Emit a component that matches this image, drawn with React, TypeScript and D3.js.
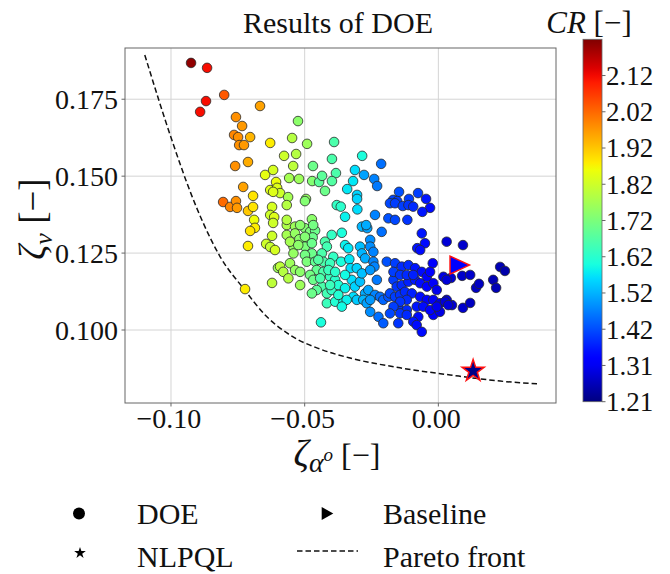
import React from 'react';
import * as d3 from 'd3';

// ---------- data ----------
const xDomain = [-0.1172, 0.044];
const yDomain = [0.07628, 0.19165];
const crDomain = [1.2131, 2.2251];

const xTicks = [-0.1, -0.05, 0.0];
const xTickLabels = ['−0.10', '−0.05', '0.00'];
const yTicks = [0.1, 0.125, 0.15, 0.175];
const yTickLabels = ['0.100', '0.125', '0.150', '0.175'];
const crTicks = [1.2131, 1.3143, 1.4155, 1.5167, 1.6179, 1.7191, 1.8203, 1.9215, 2.0227, 2.1239];
const crTickLabels = ['1.21', '1.31', '1.42', '1.52', '1.62', '1.72', '1.82', '1.92', '2.02', '2.12'];

// Pareto front (zeta_alpha, zeta_v)
const paretoX = [-0.1098, -0.0997, -0.0922, -0.0879, -0.0816, -0.0727, -0.0648, -0.0548, -0.0442, -0.033, -0.0143, 0.0044, 0.0231, 0.0369];
const paretoY = [0.1894, 0.1618, 0.1436, 0.1347, 0.1238, 0.1133, 0.1049, 0.098, 0.0938, 0.0909, 0.0877, 0.0854, 0.0834, 0.0825];

// NLPQL optimum and baseline: [zeta_alpha, zeta_v, CR]
const nlpqlPoint = [0.013, 0.0867, 1.22];
const baselinePoint = [0.008, 0.1211, 1.33];

// DOE samples: [zeta_alpha, zeta_v, CR]
const doePoints: number[][] = [
  // high-CR group (left)
  [-0.0925, 0.1868, 2.21], [-0.0865, 0.1852, 2.12], [-0.0801, 0.1764, 2.04], [-0.0869, 0.1744, 2.12],
  [-0.0891, 0.1709, 2.12], [-0.0667, 0.1728, 1.96], [-0.0757, 0.1692, 1.98], [-0.0734, 0.1663, 1.97],
  [-0.0764, 0.1634, 1.99], [-0.0749, 0.1627, 1.98], [-0.0704, 0.1627, 1.94], [-0.0745, 0.1601, 1.98],
  [-0.0727, 0.1601, 1.97], [-0.076, 0.1533, 1.98], [-0.0712, 0.1546, 1.95], [-0.0629, 0.1608, 1.88],
  [-0.073, 0.1465, 1.96], [-0.0693, 0.1436, 1.89], [-0.0805, 0.1416, 2.02], [-0.0779, 0.14, 1.99],
  [-0.0757, 0.1419, 1.98], [-0.0753, 0.1397, 1.97], [-0.0712, 0.1387, 1.92], [-0.0693, 0.14, 1.89],
  [-0.0689, 0.1358, 1.86], [-0.0686, 0.1332, 1.88], [-0.0704, 0.1322, 1.89], [-0.0712, 0.1273, 1.88],
  [-0.0723, 0.1133, 1.88],
  // green group
  [-0.0525, 0.1679, 1.74], [-0.0547, 0.1624, 1.79], [-0.0491, 0.1605, 1.76], [-0.0577, 0.1566, 1.82],
  [-0.0532, 0.1572, 1.79], [-0.0543, 0.1533, 1.8], [-0.0469, 0.1533, 1.7], [-0.0648, 0.1504, 1.85],
  [-0.0618, 0.152, 1.83], [-0.0607, 0.1481, 1.86], [-0.0558, 0.1494, 1.77], [-0.0521, 0.1491, 1.76],
  [-0.0472, 0.1484, 1.73], [-0.0446, 0.1481, 1.68], [-0.0629, 0.1455, 1.84], [-0.0603, 0.1462, 1.84],
  [-0.0592, 0.1445, 1.82], [-0.0618, 0.1449, 1.84], [-0.0562, 0.1432, 1.77], [-0.0495, 0.1426, 1.75],
  [-0.0622, 0.14, 1.83], [-0.0629, 0.1374, 1.82], [-0.0614, 0.1367, 1.84], [-0.0618, 0.1348, 1.82],
  [-0.0622, 0.1306, 1.82], [-0.0644, 0.128, 1.82], [-0.0629, 0.127, 1.81], [-0.0611, 0.126, 1.83],
  [-0.06, 0.1202, 1.76], [-0.0622, 0.1153, 1.8],
  // teal / cyan upper
  [-0.039, 0.1611, 1.66], [-0.0398, 0.1556, 1.66], [-0.0435, 0.1501, 1.68], [-0.0383, 0.151, 1.66],
  [-0.0398, 0.1484, 1.67], [-0.0424, 0.1452, 1.7],
  [-0.0285, 0.1566, 1.6], [-0.0214, 0.154, 1.45], [-0.0312, 0.152, 1.56], [-0.0278, 0.1504, 1.5],
  [-0.024, 0.1491, 1.47], [-0.0229, 0.1468, 1.46], [-0.0319, 0.1484, 1.57], [-0.0341, 0.1458, 1.57],
  [-0.0304, 0.1439, 1.55], [-0.0304, 0.1426, 1.55],
  [-0.0147, 0.1449, 1.42], [-0.0169, 0.1423, 1.41], [-0.0154, 0.1419, 1.4], [-0.011, 0.1426, 1.4],
  [-0.0076, 0.1445, 1.4], [-0.0046, 0.1426, 1.36], [-0.0031, 0.1397, 1.35],
  // right-hand dark blue group
  [0.0051, 0.1081, 1.29], [0.0092, 0.1072, 1.28], [0.0119, 0.1088, 1.27], [0.0047, 0.1169, 1.29],
  [0.0089, 0.1176, 1.28], [0.0119, 0.1179, 1.28], [0.0141, 0.1137, 1.27], [0.0152, 0.115, 1.27],
  [0.0205, 0.1163, 1.26], [0.0216, 0.1137, 1.26], [0.0231, 0.1205, 1.26], [0.0249, 0.1192, 1.25],
  [0.0092, 0.1276, 1.28],
  // dense central region
  [-0.0567, 0.1406, 1.79], [-0.0499, 0.1419, 1.73], [-0.038, 0.1406, 1.63], [-0.0365, 0.1401, 1.62],
  [-0.0303, 0.1392, 1.56], [-0.0349, 0.1368, 1.58], [-0.0237, 0.1374, 1.47], [-0.0181, 0.1412, 1.41],
  [-0.0162, 0.1412, 1.4], [-0.0133, 0.1403, 1.4], [-0.0112, 0.1406, 1.39], [-0.0094, 0.1401, 1.38],
  [-0.006, 0.1384, 1.36], [-0.0187, 0.1363, 1.42], [-0.0162, 0.1358, 1.41], [-0.0116, 0.1358, 1.39],
  [-0.0473, 0.136, 1.74], [-0.0567, 0.1341, 1.78], [-0.0536, 0.1336, 1.76], [-0.0567, 0.1309, 1.77],
  [-0.0536, 0.1314, 1.75], [-0.0499, 0.1331, 1.73], [-0.048, 0.1319, 1.72], [-0.0461, 0.1323, 1.7],
  [-0.052, 0.1295, 1.74], [-0.0492, 0.1298, 1.72], [-0.047, 0.1301, 1.7], [-0.0399, 0.1309, 1.63],
  [-0.0361, 0.1316, 1.6], [-0.0286, 0.1336, 1.52], [-0.0266, 0.1331, 1.5], [-0.027, 0.1341, 1.51],
  [-0.0212, 0.1319, 1.45], [-0.0255, 0.1293, 1.48], [-0.0062, 0.1314, 1.36], [-0.005, 0.1282, 1.35],
  [-0.0079, 0.1266, 1.36], [-0.0068, 0.126, 1.35], [0.0031, 0.1287, 1.29], [-0.0424, 0.1287, 1.66],
  [-0.0417, 0.1271, 1.65], [-0.0349, 0.1276, 1.58], [-0.0337, 0.1266, 1.57], [-0.0293, 0.1271, 1.53],
  [-0.0255, 0.1271, 1.48], [-0.0243, 0.1254, 1.47], [-0.0542, 0.1271, 1.75], [-0.0542, 0.1249, 1.75],
  [-0.0499, 0.1271, 1.72], [-0.0473, 0.1282, 1.7], [-0.0436, 0.1249, 1.66], [-0.043, 0.1222, 1.66],
  [-0.0473, 0.1249, 1.7], [-0.0499, 0.1244, 1.71], [-0.0393, 0.1238, 1.63], [-0.0405, 0.1217, 1.64],
  [-0.0364, 0.1222, 1.6], [-0.0333, 0.123, 1.57], [-0.0328, 0.1201, 1.56], [-0.0286, 0.1249, 1.52],
  [-0.0274, 0.1233, 1.51], [-0.0243, 0.1222, 1.47], [-0.0239, 0.1206, 1.47], [-0.0193, 0.1222, 1.42],
  [-0.0162, 0.1217, 1.4], [-0.0137, 0.1206, 1.38], [-0.0112, 0.1211, 1.38], [-0.0087, 0.1201, 1.36],
  [-0.0062, 0.1189, 1.35], [-0.0043, 0.1173, 1.34], [-0.0021, 0.1217, 1.33], [0.0019, 0.1173, 1.3],
  [0.0031, 0.1163, 1.29], [-0.0592, 0.1206, 1.8], [-0.058, 0.1189, 1.79], [-0.0555, 0.1217, 1.76],
  [-0.0536, 0.1195, 1.75], [-0.0517, 0.1189, 1.74], [-0.0561, 0.1168, 1.79], [-0.0517, 0.1146, 1.76],
  [-0.0492, 0.1222, 1.72], [-0.0461, 0.1222, 1.69], [-0.0455, 0.1195, 1.69], [-0.048, 0.1179, 1.71],
  [-0.0468, 0.1163, 1.7], [-0.0436, 0.1141, 1.66], [-0.0455, 0.113, 1.68], [-0.0473, 0.1119, 1.7],
  [-0.043, 0.1189, 1.66], [-0.0405, 0.1173, 1.64], [-0.0386, 0.1163, 1.62], [-0.0417, 0.1119, 1.65],
  [-0.0399, 0.113, 1.63], [-0.0374, 0.1146, 1.61], [-0.0349, 0.1136, 1.58], [-0.0417, 0.1087, 1.64],
  [-0.0386, 0.1092, 1.61], [-0.0355, 0.1092, 1.59], [-0.0324, 0.1163, 1.56], [-0.0312, 0.1141, 1.55],
  [-0.0293, 0.1157, 1.53], [-0.0274, 0.1119, 1.51], [-0.0262, 0.113, 1.5], [-0.0318, 0.1108, 1.56],
  [-0.0305, 0.1098, 1.54], [-0.0281, 0.1098, 1.52], [-0.0268, 0.1087, 1.5], [-0.0237, 0.1114, 1.47],
  [-0.0218, 0.1108, 1.45], [-0.0206, 0.1098, 1.44], [-0.0187, 0.1108, 1.42], [-0.0255, 0.1059, 1.48],
  [-0.0224, 0.1043, 1.45], [-0.0206, 0.1022, 1.43], [-0.0439, 0.1025, 1.6], [-0.0168, 0.1163, 1.4],
  [-0.0156, 0.1141, 1.39], [-0.0137, 0.1146, 1.38], [-0.0112, 0.1157, 1.37], [-0.0087, 0.1163, 1.36],
  [-0.0068, 0.1152, 1.35], [-0.0043, 0.1141, 1.34], [-0.0019, 0.1152, 1.32], [-0.0181, 0.1119, 1.41],
  [-0.0162, 0.1108, 1.4], [-0.0143, 0.1114, 1.39], [-0.0125, 0.1124, 1.38], [-0.0099, 0.1119, 1.37],
  [-0.0068, 0.1108, 1.35], [-0.0043, 0.1098, 1.34], [-0.0019, 0.1098, 1.32], [0.0006, 0.1087, 1.3],
  [0.0031, 0.1098, 1.29], [-0.015, 0.1076, 1.39], [-0.0118, 0.1065, 1.38], [-0.0081, 0.1076, 1.36],
  [-0.0056, 0.1076, 1.35], [-0.0019, 0.1049, 1.32], [0.0006, 0.1059, 1.3], [-0.0143, 0.1054, 1.39],
  [-0.0118, 0.1049, 1.38], [-0.0075, 0.1043, 1.35], [-0.0094, 0.1027, 1.36], [-0.015, 0.1022, 1.39],
  [-0.0081, 0.1016, 1.35], [-0.0062, 0.0994, 1.35], [0.0025, 0.1092, 1.29], [0.0037, 0.1081, 1.29],
  // extra samples in the dense clusters
  [-0.0517, 0.1341, 1.74], [-0.0499, 0.1303, 1.73], [-0.0468, 0.1341, 1.71], [-0.0555, 0.1287, 1.77],
  [-0.0524, 0.1276, 1.74], [-0.0567, 0.1358, 1.79], [-0.0449, 0.1228, 1.67], [-0.0411, 0.1195, 1.64],
  [-0.0386, 0.1189, 1.62], [-0.0442, 0.1168, 1.66], [-0.0405, 0.1146, 1.64], [-0.0374, 0.1114, 1.61],
  [-0.0349, 0.1179, 1.59], [-0.0343, 0.1098, 1.58], [-0.0361, 0.1076, 1.59], [-0.0305, 0.1201, 1.55],
  [-0.0286, 0.1184, 1.53], [-0.0255, 0.1195, 1.49], [-0.023, 0.1163, 1.46], [-0.0255, 0.1098, 1.49],
  [-0.0168, 0.1189, 1.4], [-0.0143, 0.1179, 1.39], [-0.0118, 0.1179, 1.38], [-0.0094, 0.1179, 1.37],
  [-0.0031, 0.1189, 1.33], [-0.0006, 0.113, 1.31], [-0.0118, 0.1098, 1.38], [-0.0031, 0.1065, 1.33],
  [-0.0006, 0.1076, 1.31], [-0.0143, 0.1092, 1.39], [-0.0168, 0.1076, 1.4], [-0.0181, 0.1054, 1.41],
];

// ---------- colormap (matplotlib jet) ----------
const jetR = d3.scaleLinear().domain([0, 0.35, 0.66, 0.89, 1]).range([0, 0, 1, 1, 0.5]).clamp(true);
const jetG = d3.scaleLinear().domain([0, 0.125, 0.375, 0.64, 0.91, 1]).range([0, 0, 1, 1, 0, 0]).clamp(true);
const jetB = d3.scaleLinear().domain([0, 0.11, 0.34, 0.65, 1]).range([0.5, 1, 1, 0, 0]).clamp(true);
const jet = (t: number) => d3.rgb(jetR(t) * 255, jetG(t) * 255, jetB(t) * 255).formatHex();

const FONT = '"Liberation Serif", "DejaVu Serif", serif';

export default function App() {
  const W = 670, H = 574;
  const L = 125, R = 556, T = 48, B = 403;
  const x = d3.scaleLinear().domain(xDomain).range([L, R]);
  const y = d3.scaleLinear().domain(yDomain).range([B, T]);
  const crNorm = d3.scaleLinear().domain(crDomain).range([0, 1]);
  const color = (v: number) => jet(crNorm(v));

  const cbX = 583, cbW = 19, cbTop = 39.3, cbBot = 401.7;
  const cbY = d3.scaleLinear().domain(crDomain).range([cbBot, cbTop]);

  const line = d3.line<number>()
    .x((_, i) => x(paretoX[i]))
    .y((_, i) => y(paretoY[i]))
    .curve(d3.curveMonotoneX);
  const paretoPath = line(paretoX) || '';

  const starBig = d3.symbol(d3.symbolStar, 150)() || '';
  const starSmall = d3.symbol(d3.symbolStar, 42)() || '';
  const triPath = (cx: number, cy: number, hw: number, hh: number) =>
    `M${cx - hw},${cy - hh}L${cx + hw},${cy}L${cx - hw},${cy + hh}Z`;

  const stops = d3.range(0, 1.0001, 0.02);

  return (
    <svg width={W} height={H} style={{ position: 'absolute', left: 0, top: 0, display: 'block', background: '#fff' }}
      fontFamily={FONT}>
      <defs>
        <linearGradient id="jetGrad" x1="0" y1="1" x2="0" y2="0">
          {stops.map((t, i) => <stop key={i} offset={t} stopColor={jet(t)} />)}
        </linearGradient>
        <clipPath id="plotClip"><rect x={L} y={T} width={R - L} height={B - T} /></clipPath>
      </defs>
      <rect x={0} y={0} width={W} height={H} fill="#fff" />

      {/* grid */}
      {xTicks.map((t, i) => (
        <line key={'gx' + i} x1={x(t)} x2={x(t)} y1={T} y2={B} stroke="#d4d4d4" strokeWidth={1} />
      ))}
      {yTicks.map((t, i) => (
        <line key={'gy' + i} x1={L} x2={R} y1={y(t)} y2={y(t)} stroke="#d4d4d4" strokeWidth={1} />
      ))}

      <g clipPath="url(#plotClip)">
        <path d={paretoPath} fill="none" stroke="#111" strokeWidth={1.5} strokeDasharray="5.5 3" />
        {doePoints.map((p, i) => (
          <circle key={i} cx={x(p[0])} cy={y(p[1])} r={4.8} fill={color(p[2])} stroke="#2a2a2a" strokeWidth={0.8} />
        ))}
        <path d={triPath(x(baselinePoint[0]), y(baselinePoint[1]), 9.7, 9)} fill={color(baselinePoint[2])}
          stroke="#ff1010" strokeWidth={1.5} strokeLinejoin="miter" />
        <path d={starBig} transform={`translate(${x(nlpqlPoint[0])},${y(nlpqlPoint[1])})`} fill={color(nlpqlPoint[2])}
          stroke="#ff1010" strokeWidth={1.5} />
      </g>

      {/* frame */}
      <rect x={L} y={T} width={R - L} height={B - T} fill="none" stroke="#666" strokeWidth={1} />

      {/* axes ticks and labels */}
      {yTicks.map((t, i) => (
        <g key={'yt' + i}>
          <line x1={L - 3.5} x2={L} y1={y(t)} y2={y(t)} stroke="#666" />
          <text x={L - 7} y={y(t)} dy="0.35em" textAnchor="end" fontSize={28} fill="#111">{yTickLabels[i]}</text>
        </g>
      ))}
      {xTicks.map((t, i) => (
        <g key={'xt' + i}>
          <line x1={x(t)} x2={x(t)} y1={B} y2={B + 3.5} stroke="#666" />
          <text x={x(t) - 2} y={428} textAnchor="middle" fontSize={28} fill="#111">{xTickLabels[i]}</text>
        </g>
      ))}

      {/* title */}
      <text x={338} y={33} textAnchor="middle" fontSize={30} fill="#111">Results of DOE</text>

      {/* axis labels */}
      <text x={337} y={466} textAnchor="middle" fontSize={32} fill="#111">
        <tspan fontStyle="italic" fontSize={38}>ζ</tspan>
        <tspan fontStyle="italic" fontSize={28} dy={6}>α</tspan>
        <tspan fontStyle="italic" fontSize={19} dy={-11}>o</tspan>
        <tspan dy={5} dx={8}>[−]</tspan>
      </text>
      <text transform="translate(45,219) rotate(-90)" textAnchor="middle" fontSize={37} fill="#111">
        <tspan fontStyle="italic">ζ</tspan>
        <tspan fontStyle="italic" fontSize={26} dy={7}>v</tspan>
        <tspan dy={-7}> [−]</tspan>
      </text>

      {/* colorbar */}
      <rect x={cbX} y={cbTop} width={cbW} height={cbBot - cbTop} fill="url(#jetGrad)" stroke="#666" strokeWidth={0.8} />
      {crTicks.map((t, i) => (
        <g key={'ct' + i}>
          <line x1={cbX + cbW} x2={cbX + cbW + 3.5} y1={cbY(t)} y2={cbY(t)} stroke="#666" />
          <text x={cbX + cbW + 4} y={cbY(t)} dy="0.35em" fontSize={27} fill="#111">{crTickLabels[i]}</text>
        </g>
      ))}
      <text x={589} y={33} textAnchor="middle" fontSize={31} fill="#111">
        <tspan fontStyle="italic">CR</tspan> [−]
      </text>

      {/* legend */}
      <circle cx={79} cy={513.5} r={6} fill="#000" />
      <text x={137} y={523.5} fontSize={30} fill="#111">DOE</text>
      <path d={triPath(327.5, 513.5, 5.8, 6.5)} fill="#000" />
      <text x={383} y={523.5} fontSize={30} fill="#111">Baseline</text>
      <path d={starSmall} transform="translate(80,553)" fill="#000" />
      <text x={137} y={566.5} fontSize={30} fill="#111">NLPQL</text>
      <line x1={297} x2={358} y1={551} y2={551} stroke="#111" strokeWidth={1.5} strokeDasharray="5.5 3" />
      <text x={383} y={566.5} fontSize={30} fill="#111">Pareto front</text>
    </svg>
  );
}
